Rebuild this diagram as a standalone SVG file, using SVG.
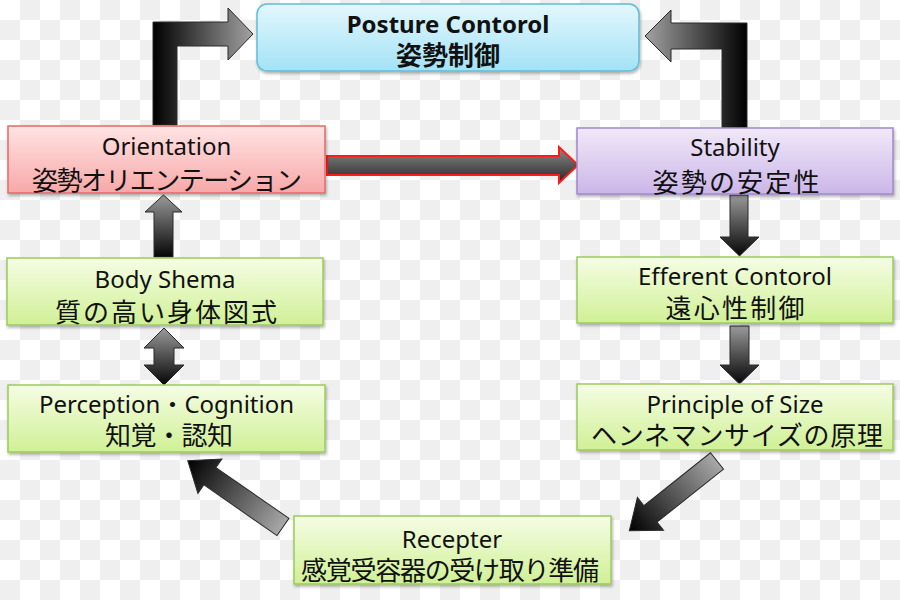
<svg xmlns="http://www.w3.org/2000/svg" width="900" height="600" viewBox="0 0 900 600">
<defs>
<pattern id="checker" width="40" height="40" patternUnits="userSpaceOnUse">
<rect width="40" height="40" fill="#ffffff"/>
<rect x="20" y="0" width="20" height="20" fill="#efefef"/>
<rect x="0" y="20" width="20" height="20" fill="#efefef"/>
</pattern>
<linearGradient id="gBlue" x1="0" y1="0" x2="0" y2="1"><stop offset="0" stop-color="#e3f7fd"/><stop offset="1" stop-color="#a3e2f6"/></linearGradient>
<linearGradient id="gPink" x1="0" y1="0" x2="0" y2="1"><stop offset="0" stop-color="#ffe4e4"/><stop offset="1" stop-color="#f7a8a8"/></linearGradient>
<linearGradient id="gPurple" x1="0" y1="0" x2="0" y2="1"><stop offset="0" stop-color="#f1e9f9"/><stop offset="1" stop-color="#cbb6e8"/></linearGradient>
<linearGradient id="gGreen" x1="0" y1="0" x2="0" y2="1"><stop offset="0" stop-color="#f5fde4"/><stop offset="1" stop-color="#d0f096"/></linearGradient>
<linearGradient id="gDownV" x1="0" y1="0" x2="0" y2="1"><stop offset="0" stop-color="#9a9a9a"/><stop offset="1" stop-color="#050505"/></linearGradient>
<linearGradient id="gRed" x1="0" y1="0" x2="0" y2="1"><stop offset="0" stop-color="#8c8c8c"/><stop offset="1" stop-color="#262626"/></linearGradient>
<linearGradient id="gLeftL" gradientUnits="userSpaceOnUse" x1="153" y1="0" x2="253" y2="0"><stop offset="0" stop-color="#000"/><stop offset="1" stop-color="#a2a2a2"/></linearGradient>
<linearGradient id="gRightL" gradientUnits="userSpaceOnUse" x1="645" y1="0" x2="747" y2="0"><stop offset="0" stop-color="#a2a2a2"/><stop offset="1" stop-color="#000"/></linearGradient>
<linearGradient id="gDiagL" gradientUnits="userSpaceOnUse" x1="0" y1="0" x2="116" y2="0"><stop offset="0" stop-color="#a8a8a8"/><stop offset="1" stop-color="#000"/></linearGradient>
<linearGradient id="gDiagR" gradientUnits="userSpaceOnUse" x1="0" y1="0" x2="112" y2="0"><stop offset="0" stop-color="#a8a8a8"/><stop offset="1" stop-color="#000"/></linearGradient>
<filter id="sh" x="-10%" y="-20%" width="120%" height="150%"><feDropShadow dx="1" dy="2" stdDeviation="1.5" flood-color="#000" flood-opacity="0.3"/></filter>
</defs>
<style>
.en{font-family:"Noto Sans","Noto Sans CJK JP",sans-serif;font-size:24px;fill:#111;text-anchor:middle}
.jp{font-family:"Noto Sans CJK JP",sans-serif;font-size:26px;fill:#111;text-anchor:middle}
.b{font-weight:bold}
.arrow{stroke:#2a2a2a;stroke-width:1}
.box{filter:url(#sh);stroke-width:1.5}
</style>
<rect width="900" height="600" fill="url(#checker)"/>
<g id="connectors">
<path class="arrow" fill="url(#gLeftL)" d="M153,125 L153,22 L228,22 L228,8 L253,34 L228,60 L228,46 L177,46 L177,125 Z"/>
<path class="arrow" fill="url(#gRightL)" d="M747,128 L747,23 L671,23 L671,10 L645,36 L671,62 L671,49 L722,49 L722,128 Z"/>
<path fill="url(#gRed)" stroke="#ff1a1a" stroke-width="2" d="M327,156 L559,156 L559,147 L578,165 L559,183 L559,175 L327,175 Z"/>
<path class="arrow" fill="url(#gDownV)" d="M730,195 L748,195 L748,237 L759,237 L739.5,256 L720,237 L730,237 Z"/>
<path class="arrow" fill="url(#gDownV)" d="M730,326 L749,326 L749,365 L759,365 L739.5,384 L720,365 L730,365 Z"/>
<path class="arrow" fill="url(#gDownV)" d="M154,257 L154,212 L145,212 L163.5,195 L182,212 L173,212 L173,257 Z"/>
<path class="arrow" fill="url(#gDownV)" d="M164,328 L184,348 L174,348 L174,365 L184,365 L164,385 L144,365 L154,365 L154,348 L144,348 Z"/>
<path class="arrow" fill="url(#gDiagL)" transform="translate(283,527) rotate(214.8)" d="M0,-10.5 L89,-10.5 L89,-21 L116,0 L89,21 L89,10.5 L0,10.5 Z"/>
<path class="arrow" fill="url(#gDiagR)" transform="translate(717,461) rotate(141.5)" d="M0,-10.5 L85,-10.5 L85,-21 L112,0 L85,21 L85,10.5 L0,10.5 Z"/>
</g>
<g id="posture">
<rect class="box" x="257" y="4" width="382" height="67" rx="10" fill="url(#gBlue)" stroke="#62bcd6"/>
<text class="en b" x="448" y="33" font-size="23">Posture Contorol</text>
<text class="jp b" x="448" y="65" font-size="27">姿勢制御</text>
</g>
<g id="orientation">
<rect class="box" x="8" y="126" width="317" height="67" fill="url(#gPink)" stroke="#e46a6a"/>
<text class="en" x="166.5" y="155">Orientation</text>
<text class="jp" x="167" y="190" textLength="270" lengthAdjust="spacing">姿勢オリエンテーション</text>
</g>
<g id="stability">
<rect class="box" x="577" y="128" width="316" height="66" fill="url(#gPurple)" stroke="#a088c8"/>
<text class="en" x="735" y="156">Stability</text>
<text class="jp" x="736" y="192" textLength="167" lengthAdjust="spacing">姿勢の安定性</text>
</g>
<g id="bodyschema">
<rect class="box" x="7" y="258" width="316" height="67" fill="url(#gGreen)" stroke="#9cca5e"/>
<text class="en" x="165" y="288">Body Shema</text>
<text class="jp" x="166" y="322" textLength="222" lengthAdjust="spacing">質の高い身体図式</text>
</g>
<g id="efferent">
<rect class="box" x="577" y="257" width="316" height="66" fill="url(#gGreen)" stroke="#9cca5e"/>
<text class="en" x="735" y="285">Efferent Contorol</text>
<text class="jp" x="735" y="318" textLength="139" lengthAdjust="spacing">遠心性制御</text>
</g>
<g id="perception">
<rect class="box" x="8" y="385" width="317" height="67" fill="url(#gGreen)" stroke="#9cca5e"/>
<text class="en" x="166.5" y="413">Perception・Cognition</text>
<text class="jp" x="169" y="445" textLength="128" lengthAdjust="spacing">知覚・認知</text>
</g>
<g id="principle">
<rect class="box" x="577" y="384" width="316" height="66" fill="url(#gGreen)" stroke="#9cca5e"/>
<text class="en" x="735" y="413">Principle of Size</text>
<text class="jp" x="737" y="445" textLength="292" lengthAdjust="spacing">ヘンネマンサイズの原理</text>
</g>
<g id="recepter">
<rect class="box" x="294" y="516" width="317" height="68" fill="url(#gGreen)" stroke="#9cca5e"/>
<text class="en" x="452" y="548">Recepter</text>
<text class="jp" x="450" y="580" textLength="298" lengthAdjust="spacing">感覚受容器の受け取り準備</text>
</g>
</svg>
